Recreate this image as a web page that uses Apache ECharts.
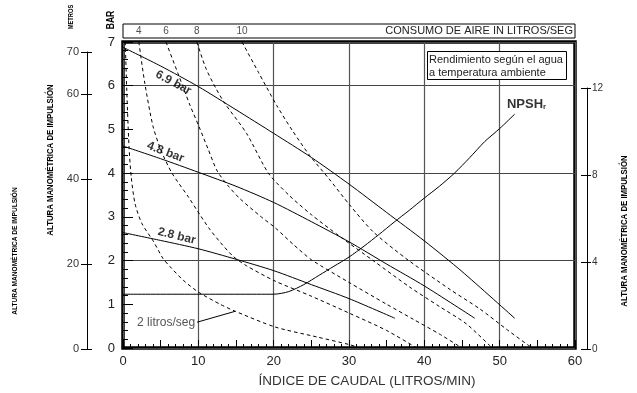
<!DOCTYPE html>
<html>
<head>
<meta charset="utf-8">
<script src="https://cdn.jsdelivr.net/npm/echarts@6/dist/echarts.min.js"></script>
<style>
  html, body { margin: 0; padding: 0; background: #fff; }
  #chart { width: 637px; height: 393px; }
</style>
</head>
<body>
<div id="chart"></div>
<script>
  // curvas de rendimiento (caudal l/min, bar)
  const perf69 = [[0,6.88],[5,6.45],[10,5.98],[15,5.45],[20,4.91],[25,4.36],[30,3.75],[35,3.1],[40,2.45],[45,1.75],[52,0.68]];
  const perf48 = [[0,4.62],[5,4.33],[10,4.02],[15,3.7],[20,3.33],[25,2.89],[30,2.43],[35,1.92],[40,1.42],[46.7,0.68]];
  const perf28 = [[0,2.64],[5,2.46],[10,2.27],[15,2.03],[20,1.77],[25,1.45],[30,1.13],[36.1,0.68]];
  const npshr = [[0,1.23],[20,1.23],[22,1.29],[24,1.45],[26,1.66],[28,1.87],[30,2.08],[32,2.33],[34,2.6],[36,2.88],[38,3.15],[40,3.43],[42,3.7],[44,4.0],[46,4.35],[48,4.72],[50,5.02],[52,5.35]];

  // consumo de aire (l/seg)
  const air2 = [[0.3,7],[0.5,5.9],[0.8,4.6],[1.1,3.9],[1.6,3.3],[2.5,2.85],[4,2.45],[5.3,2.05],[6.2,1.87],[8,1.55],[10,1.28],[12.9,1.0],[14.9,0.84],[20.2,0.48],[25.8,0.25],[30,0.08],[31.5,0]];
  const air4 = [[2.1,7],[2.9,6.05],[4,5.06],[5.1,4.5],[6.5,4.0],[8.7,3.45],[10.2,3.05],[11.5,2.72],[12.9,2.42],[14.6,2.1],[16.4,1.88],[20.2,1.53],[24.8,1.2],[30,0.8],[35,0.4],[39,0]];
  const air6 = [[5.7,7],[7.3,6.28],[8.9,5.55],[10.1,5.06],[11.3,4.55],[12.5,4.05],[14,3.7],[15.5,3.42],[18.2,3.02],[20.2,2.75],[22.6,2.37],[25,2.02],[30,1.5],[35,1.0],[38.5,0.66],[42,0.32],[45,0]];
  const air8 = [[9.8,7],[11,6.4],[12.3,5.95],[13.5,5.6],[16.4,4.91],[19.3,4.0],[22,3.5],[25,3.05],[28.8,2.55],[33.2,2.0],[38,1.4],[42,0.95],[45.6,0.55],[49,0]];
  const air10 = [[15.8,7],[18,6.3],[20.4,5.55],[22.5,4.97],[24.8,4.4],[27.3,3.88],[30.1,3.27],[33.2,2.66],[37.7,2.03],[43.4,1.34],[47.4,0.89],[50.9,0.43],[54.3,0]];

  // etiquetas de la escala superior
  const airTickNames = ['4', '6', '8', '10'];
  const airTickFlow = [2.1, 5.7, 9.8, 15.8];

  const perfNames = ['6.9 bar', '4.8 bar', '2.8 bar'];
  const perfLabelAt = [[6.69, 6.07], [5.64, 4.48], [7.13, 2.56]];
  const perfLabelRot = [-28, -21, -14];

  const sans = '"Liberation Sans", Arial, sans-serif';

  const myChart = echarts.init(document.getElementById('chart'));

  const solid = { color: '#000', width: 1 };
  const dashed = { color: '#000', width: 1, type: [3.5, 3] };

  function curve(name, data, style, extra) {
    return Object.assign({
      name: name,
      type: 'line',
      xAxisIndex: 0,
      yAxisIndex: 0,
      data: data,
      smooth: 0.25,
      showSymbol: false,
      silent: true,
      lineStyle: style,
      z: 3
    }, extra || {});
  }

  function vtext(text, x, y, size) {
    return {
      type: 'text', x: x, y: y, rotation: Math.PI / 2, scaleX: 0.82,
      style: { text: text, fontSize: size, fontWeight: 'bold', fontFamily: sans, fill: '#000', align: 'center', verticalAlign: 'middle' }
    };
  }

  let option = {
    animation: false,
    backgroundColor: '#fff',
    textStyle: { fontFamily: sans },
    title: [
      {
        text: 'CONSUMO DE AIRE IN LITROS/SEG',
        right: 64,
        top: 25,
        padding: 0,
        textStyle: { fontSize: 11, fontWeight: 'normal', color: '#222', fontFamily: sans }
      },
      {
        text: 'Rendimiento según el agua\na temperatura ambiente',
        left: 427,
        top: 51,
        padding: [2, 4, 1, 2],
        borderColor: '#000',
        borderWidth: 1,
        backgroundColor: '#fff',
        textStyle: { fontSize: 11, fontWeight: 'normal', lineHeight: 13, color: '#222', fontFamily: sans }
      }
    ],
    grid: [
      { left: 123, right: 62, top: 42, bottom: 44, show: true, borderColor: '#000', borderWidth: 3.5 },
      { left: 123, right: 62, top: 24, height: 14, show: true, borderColor: '#000', borderWidth: 1 },
      { left: 87, width: 1, top: 52, bottom: 44 },
      { left: 587, width: 1, top: 88, bottom: 44 }
    ],
    xAxis: [
      {
        gridIndex: 0, type: 'value', min: 0, max: 60, interval: 10,
        axisLine: { show: false },
        axisTick: { inside: true, length: 8, lineStyle: { color: '#000' } },
        minorTick: { show: true, splitNumber: 10, length: 4, lineStyle: { color: '#000' } },
        splitLine: { show: true, lineStyle: { color: '#555', width: 1.2 } },
        axisLabel: { fontSize: 13, color: '#222', margin: 7 },
        name: 'ÍNDICE DE CAUDAL (LITROS/MIN)',
        nameLocation: 'middle',
        nameGap: 26,
        nameTextStyle: { fontSize: 13.5, color: '#333', padding: [0, 0, 0, 36] }
      },
      {
        gridIndex: 0, type: 'value', min: 0, max: 60, interval: 5, position: 'bottom',
        axisLine: { show: false },
        axisTick: { inside: true, length: 8, lineStyle: { color: '#000' } },
        axisLabel: { show: false },
        splitLine: { show: false }
      },
      { gridIndex: 1, type: 'value', min: 0, max: 60, show: false },
      { gridIndex: 2, type: 'value', min: 0, max: 1, show: false },
      { gridIndex: 3, type: 'value', min: 0, max: 1, show: false }
    ],
    yAxis: [
      {
        gridIndex: 0, type: 'value', min: 0, max: 7, interval: 1,
        axisLine: { show: false },
        axisTick: { inside: true, length: 10, lineStyle: { color: '#000' } },
        minorTick: { show: true, splitNumber: 5, length: 5, lineStyle: { color: '#000' } },
        splitLine: { show: false },
        axisLabel: { fontSize: 13, color: '#222', margin: 8 }
      },
      {
        gridIndex: 0, type: 'value', min: 0, max: 7, interval: 2, position: 'left',
        axisLine: { show: false }, axisTick: { show: false }, axisLabel: { show: false },
        splitLine: { show: true, lineStyle: { color: '#444', width: 1.2 } }
      },
      { gridIndex: 1, type: 'value', min: 0, max: 1, show: false },
      {
        gridIndex: 2, type: 'value', min: 0, max: 70, interval: 20, position: 'left',
        axisLine: { show: true, lineStyle: { color: '#000', width: 1 } },
        axisTick: { show: true, inside: false, length: 6, lineStyle: { color: '#000' } },
        axisLabel: { fontSize: 11, color: '#333', margin: 8 },
        splitLine: { show: false }
      },
      {
        gridIndex: 2, type: 'value', min: 0, max: 70, interval: 20, position: 'left',
        axisLine: { show: false },
        axisTick: { show: true, inside: true, length: 5, lineStyle: { color: '#000' } },
        axisLabel: { show: false },
        splitLine: { show: false }
      },
      {
        gridIndex: 3, type: 'value', min: 0, max: 12, interval: 4, position: 'right',
        axisLine: { show: true, lineStyle: { color: '#000', width: 1 } },
        axisTick: { show: true, inside: false, length: 4, lineStyle: { color: '#000' } },
        axisLabel: { fontSize: 10, color: '#333', margin: 4 },
        splitLine: { show: false }
      },
      {
        gridIndex: 3, type: 'value', min: 0, max: 12, interval: 4, position: 'right',
        axisLine: { show: false },
        axisTick: { show: true, inside: true, length: 7, lineStyle: { color: '#000' } },
        axisLabel: { show: false },
        splitLine: { show: false }
      }
    ],
    graphic: [
      vtext('BAR', 111.5, 20, 10.5),
      vtext('METROS', 71, 17, 7),
      vtext('ALTURA MANOMÉTRICA DE IMPULSIÓN', 50, 160, 9.5),
      vtext('ALTURA MANOMÉTRICA DE IMPULSIÓN', 15, 251, 8),
      vtext('ALTURA MANOMÉTRICA DE IMPULSIÓN', 624, 231, 9.5)
    ],
    series: [
      curve('6.9 bar', perf69, solid),
      curve('4.8 bar', perf48, solid),
      curve('2.8 bar', perf28, solid),
      curve('NPSHr', npshr, solid),
      curve('2 l/s', air2, dashed, {
        markLine: {
          silent: true,
          symbol: ['none', 'none'],
          lineStyle: { type: 'solid', color: '#000', width: 1 },
          label: { show: true, position: 'start', formatter: '2 litros/seg', color: '#555', fontSize: 12, distance: 2 },
          data: [[{ coord: [9.83, 0.59] }, { coord: [14.9, 0.84] }]]
        }
      }),
      curve('4 l/s', air4, dashed),
      curve('6 l/s', air6, dashed),
      curve('8 l/s', air8, dashed),
      curve('10 l/s', air10, dashed),
      {
        name: 'etiquetas',
        type: 'scatter',
        xAxisIndex: 0,
        yAxisIndex: 0,
        symbolSize: 1,
        silent: true,
        itemStyle: { color: 'transparent' },
        z: 5,
        data: perfNames.map((n, i) => ({
          value: perfLabelAt[i],
          label: { show: true, formatter: n, rotate: perfLabelRot[i] }
        })).concat([{
          value: [50.9, 5.6],
          label: {
            show: true, position: 'right', distance: 0,
            formatter: '{n|NPSH}{r|r}',
            rich: {
              n: { fontSize: 13, fontWeight: 'bold', color: '#000', lineHeight: 15, verticalAlign: 'bottom' },
              r: { fontSize: 8, fontWeight: 'bold', color: '#000', lineHeight: 9, verticalAlign: 'bottom' }
            }
          }
        }]),
        label: {
          show: true, position: 'inside', color: '#000',
          fontSize: 12, fontWeight: 'bold'
        }
      },
      {
        name: 'consumo',
        type: 'scatter',
        xAxisIndex: 2,
        yAxisIndex: 2,
        symbolSize: 1,
        silent: true,
        itemStyle: { color: 'transparent' },
        data: airTickFlow.map((x, i) => ({ value: [x, 0.5], name: airTickNames[i] })),
        label: { show: true, position: 'inside', formatter: '{b}', color: '#222', fontSize: 10 }
      }
    ]
  };

  myChart.setOption(option);
  window.addEventListener('resize', function () {
    myChart.resize();
  });
</script>
</body>
</html>
